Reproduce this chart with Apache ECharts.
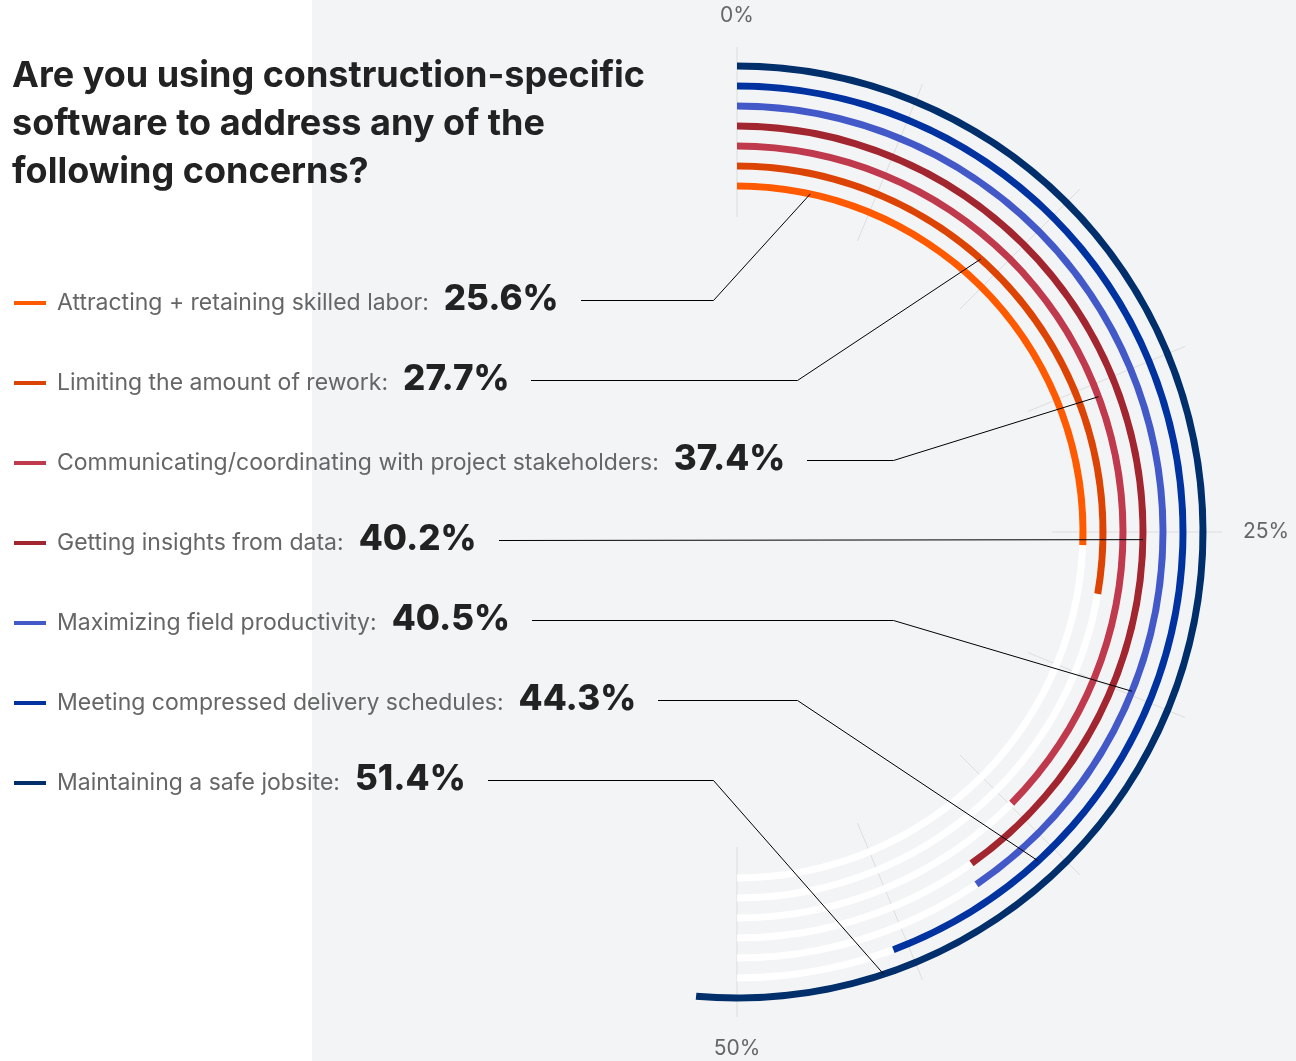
<!DOCTYPE html>
<html>
<head>
<meta charset="utf-8">
<script src="https://cdn.jsdelivr.net/npm/echarts@6/dist/echarts.min.js"></script>
<style>
  html, body { margin: 0; padding: 0; }
  body { background: linear-gradient(to right, #ffffff 0, #ffffff 312px, #f3f4f6 312px); }
  #chart { width: 1296px; height: 1061px; }
</style>
</head>
<body>
<div id="chart"></div>
<script>
// Survey answers, ordered from the innermost ring to the outermost
const categories = [
  'Attracting + retaining skilled labor',
  'Limiting the amount of rework',
  'Communicating/coordinating with project stakeholders',
  'Getting insights from data',
  'Maximizing field productivity',
  'Meeting compressed delivery schedules',
  'Maintaining a safe jobsite'
];
const values = [25.6, 27.7, 37.4, 40.2, 40.5, 44.3, 51.4];
// Percent positions that carry an angle-axis label
const angleTickLabels = [0, 25, 50];

// ---- styling / layout ----
const palette = ['#FF5A00', '#DC4405', '#BE3A4C', '#A1262F', '#4459C8', '#0033A0', '#002F6C'];
const CENTER = [737, 532];
const TRACK_END = 50;                 // white tracks run over the visible half circle
const leaderAnchor = [3.4, 11.6, 19.3, 25.3, 31.1, 38.2, 44.9]; // where each leader meets its ring (axis units)
const leaderElbowX = [713.5, 797.5, 893.5, null, 893.5, 797.5, 713.5];
const ROW_Y0 = 303, ROW_STEP = 80;
const LABEL_X = 57;
const labelFont = '400 23px Inter';
const valueFont = '800 35px Inter';

const measureCtx = document.createElement('canvas').getContext('2d');
function textWidth(text, font) {
  measureCtx.font = font;
  return measureCtx.measureText(text).width;
}

const chart = echarts.init(document.getElementById('chart'), null, { renderer: 'canvas' });

const option = {
  backgroundColor: 'transparent',
  animation: false,
  title: {
    text: 'Are you using construction-specific\nsoftware to address any of the\nfollowing concerns?',
    left: 7,
    top: 47,
    textStyle: {
      fontFamily: 'Inter',
      fontWeight: 700,
      fontSize: 36,
      lineHeight: 48,
      color: '#222222'
    }
  },
  polar: [
    { center: CENTER, radius: [336, 476] },
    { center: CENTER, radius: [315, 485] }
  ],
  angleAxis: [
    { polarIndex: 0, type: 'value', min: 0, max: 100, startAngle: 90, clockwise: true, show: false },
    {
      polarIndex: 1, type: 'value', min: 0, max: 50, interval: 6.25,
      startAngle: 90, endAngle: -90, clockwise: true,
      axisLine: { show: false },
      axisTick: { show: false },
      splitLine: { show: true, lineStyle: { color: '#dddddd', width: 1 } },
      axisLabel: {
        margin: 21,
        color: '#666666',
        fontFamily: 'Inter',
        fontSize: 21,
        formatter: v => angleTickLabels.includes(v) ? v + '%' : ''
      }
    }
  ],
  radiusAxis: [
    { polarIndex: 0, type: 'category', data: categories, show: false },
    { polarIndex: 1, type: 'value', min: 0, max: 1, show: false }
  ],
  series: [
    {
      name: 'track',
      type: 'bar',
      coordinateSystem: 'polar',
      polarIndex: 0,
      barWidth: 7,
      barGap: '-100%',
      silent: true,
      z: 1,
      itemStyle: { color: '#ffffff' },
      data: categories.map(() => TRACK_END)
    },
    {
      name: 'share',
      type: 'bar',
      coordinateSystem: 'polar',
      polarIndex: 0,
      barWidth: 7,
      barGap: '-100%',
      z: 2,
      data: values.map((v, i) => ({ value: v, itemStyle: { color: palette[i] } }))
    },
    {
      name: 'labels',
      type: 'custom',
      coordinateSystem: 'polar',
      polarIndex: 0,
      z: 5,
      silent: true,
      data: values.map((v, i) => [i, v]),
      renderItem: function (params, api) {
        const i = params.dataIndex;
        const y = ROW_Y0 + i * ROW_STEP;
        const lineY = y - 2.5;
        const labelText = categories[i] + ':';
        const valueText = values[i].toFixed(1) + '%';
        const valueX = LABEL_X + textWidth(labelText, labelFont) + 15;
        const lineStart = Math.round(valueX + textWidth(valueText, valueFont) + 22);
        const end = api.coord([i, leaderAnchor[i]]);
        const pts = [[lineStart, lineY]];
        if (leaderElbowX[i] !== null) pts.push([leaderElbowX[i], lineY]);
        pts.push(end);
        return {
          type: 'group',
          children: [
            { type: 'rect', shape: { x: 14, y: y - 2, width: 32, height: 4 }, style: { fill: palette[i] } },
            { type: 'text', x: LABEL_X, y: y, style: { text: labelText, font: labelFont, fill: '#666666', align: 'left', verticalAlign: 'middle' } },
            { type: 'text', x: valueX, y: y - 4, style: { text: valueText, font: valueFont, fill: '#222222', align: 'left', verticalAlign: 'middle' } },
            { type: 'polyline', shape: { points: pts }, style: { stroke: '#000000', lineWidth: 1, fill: null } }
          ]
        };
      }
    }
  ]
};

chart.setOption(option);
</script>
</body>
</html>
